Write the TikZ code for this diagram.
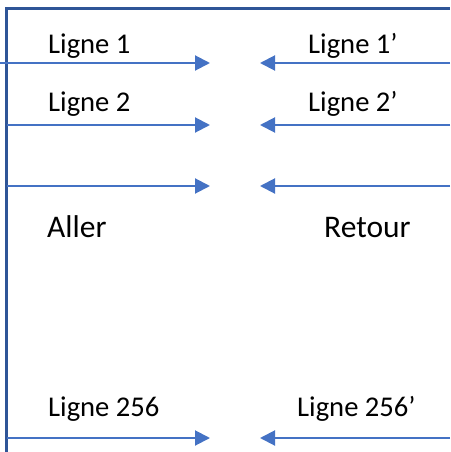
\documentclass[tikz,border=0pt]{standalone}
\usepackage{fontspec}
\setmainfont{Carlito}
\usetikzlibrary{arrows.meta}
\definecolor{framecol}{HTML}{2F5597}
\definecolor{arrcol}{HTML}{4472C4}
\tikzset{
  framestyle/.style={draw=framecol, line width=2.2pt},
  arrowline/.style={draw=arrcol, line width=2pt, -{Triangle[length=15pt,width=15pt]}},
  lbl/.style={anchor=base west, inner sep=0pt, font=\fontsize{28.6}{32}\selectfont, text=black},
  biglbl/.style={lbl, font=\fontsize{31.5}{36}\selectfont}
}
\begin{document}
\begin{tikzpicture}[x=1pt,y=-1pt]
\useasboundingbox (0,0) rectangle (450,452);
% frame
\coordinate (fbl) at (6.5,452);
\coordinate (ftl) at (6.5,8.5);
\coordinate (ftr) at (450,8.5);
\draw[framestyle] (fbl) -- (ftl) -- (ftr);
% Aller arrows
\coordinate (a1s) at (0,63);   \coordinate (a1e) at (210,63);
\coordinate (a2s) at (7,125);  \coordinate (a2e) at (210,125);
\coordinate (a3s) at (7,186);  \coordinate (a3e) at (210,186);
\coordinate (a4s) at (7,438);  \coordinate (a4e) at (210,438);
\draw[arrowline] (a1s) -- (a1e);
\draw[arrowline] (a2s) -- (a2e);
\draw[arrowline] (a3s) -- (a3e);
\draw[arrowline] (a4s) -- (a4e);
% Retour arrows
\coordinate (r1s) at (450,63);  \coordinate (r1e) at (260,63);
\coordinate (r2s) at (450,125); \coordinate (r2e) at (260,125);
\coordinate (r3s) at (450,186); \coordinate (r3e) at (260,186);
\coordinate (r4s) at (450,438); \coordinate (r4e) at (260,438);
\draw[arrowline] (r1s) -- (r1e);
\draw[arrowline] (r2s) -- (r2e);
\draw[arrowline] (r3s) -- (r3e);
\draw[arrowline] (r4s) -- (r4e);
% labels
\node[lbl] (l1) at (48,53.5) {Ligne 1};
\node[lbl] (l2) at (48,111) {Ligne 2};
\node[biglbl] (aller) at (47,237.5) {Aller};
\node[lbl] (l256) at (48,416) {Ligne 256};
\node[lbl] (l1p) at (308,53.5) {Ligne 1’};
\node[lbl] (l2p) at (308,111) {Ligne 2’};
\node[biglbl] (retour) at (324,237.5) {Retour};
\node[lbl] (l256p) at (297,416) {Ligne 256’};
\end{tikzpicture}
\end{document}
